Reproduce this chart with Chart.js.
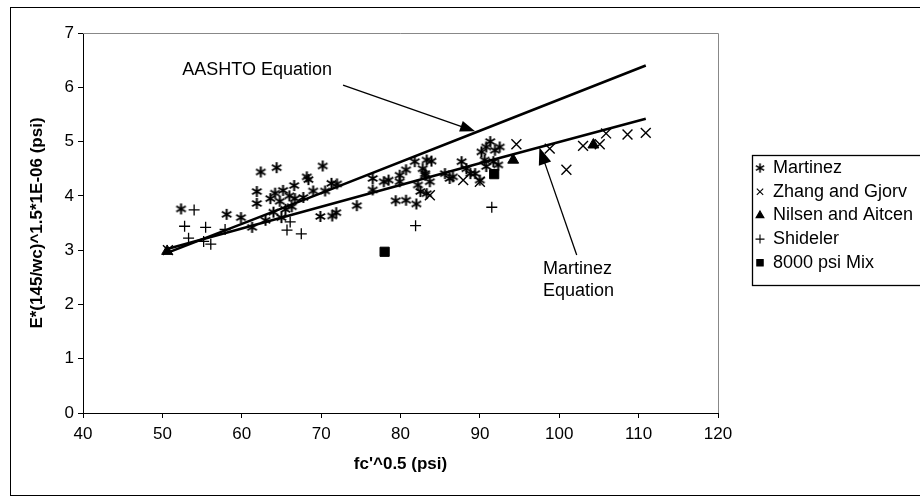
<!DOCTYPE html>
<html>
<head>
<meta charset="utf-8">
<script src="https://cdn.jsdelivr.net/npm/chart.js@4.4.0/dist/chart.umd.min.js"></script>
<style>
  html, body { margin: 0; padding: 0; background: #fff; }
</style>
</head>
<body>
<canvas id="chart" width="920" height="503"></canvas>
<script>
// Data (x = fc'^0.5, y = E*(145/wc)^1.5*1E-06)
const martinezX = [52.35, 58.1, 59.9, 61.3, 62.4, 64.4, 61.9, 61.9, 63.6, 64.2, 64.8, 65.2, 65.5, 64.0, 63.0, 66.0, 65.0,
  70.2, 68.2, 68.4, 66.6, 69.0, 70.5, 71.3, 72.0, 66.7, 67.75, 66.3, 69.9, 71.4, 71.9, 74.5, 76.5, 76.5, 77.9, 78.5,
  79.9, 79.9, 80.7, 81.8, 79.4, 80.7, 82.0, 82.5, 83.1, 83.3, 82.8, 82.2,
  83.9, 83.1, 83.7, 83.3, 85.6, 86.2, 86.6, 87.7, 88.3, 88.8, 89.4, 90.0, 90.2, 90.8, 91.3, 91.9, 92.5, 90.6, 91.7, 92.3, 90.8];
const martinezY = [3.76, 3.66, 3.60, 3.42, 4.44, 4.52, 4.08, 3.86, 3.95, 4.05, 3.90, 4.10, 3.75, 3.70, 3.55, 4.00, 3.60,
  4.55, 4.35, 4.30, 4.19, 4.09, 4.09, 4.23, 4.22, 3.95, 3.97, 3.80, 3.62, 3.63, 3.69, 3.82, 4.32, 4.11, 4.26, 4.29,
  4.38, 4.26, 4.48, 4.63, 3.91, 3.92, 3.85, 4.08, 4.41, 4.66, 4.50, 4.20,
  4.64, 4.38, 4.26, 4.04, 4.41, 4.32, 4.35, 4.63, 4.50, 4.41, 4.41, 4.29, 4.81, 4.90, 5.00, 4.84, 4.90, 4.66, 4.63, 4.57, 4.54];

const zhangX = [50.7, 83.7, 87.9, 90.0, 94.6, 98.8, 100.9, 103.0, 105.1, 105.9, 108.6, 110.9];
const zhangY = [3.00, 4.01, 4.29, 4.26, 4.95, 4.87, 4.48, 4.92, 4.95, 5.15, 5.13, 5.16];

const nilsenX = [50.6, 94.2, 104.3];
const nilsenY = [2.98, 4.66, 4.94];

const shidelerX = [54.0, 52.8, 55.45, 53.3, 55.2, 56.1, 57.9, 65.7, 66.1, 67.5, 81.9, 91.5];
const shidelerY = [3.74, 3.44, 3.42, 3.22, 3.16, 3.11, 3.38, 3.37, 3.52, 3.30, 3.45, 3.79];

const mixX = [78.0, 91.8];
const mixY = [2.97, 4.40];

const aashtoX = [50.6, 70, 90, 110.9];
const aashtoY = [2.95, 4.05, 5.20, 6.40];

const martinezEqX = [50.6, 70, 90, 110.9];
const martinezEqY = [3.02, 3.80, 4.60, 5.42];

const xTicks = { min: 40, max: 120, step: 10 };
const yTicks = { min: 0, max: 7, step: 1 };

const FONT = 'Liberation Sans, Arial, sans-serif';

function toPoints(xs, ys) {
    return xs.map((x, i) => ({ x: x, y: ys[i] }));
}

// six-armed asterisk marker used for the Martinez data
function makeAsterisk(size) {
    const c = document.createElement('canvas');
    c.width = size;
    c.height = size;
    const g = c.getContext('2d');
    const m = size / 2, r = size / 2 - 1;
    const dx = r * Math.cos(Math.PI / 6), dy = r * Math.sin(Math.PI / 6);
    g.strokeStyle = '#000';
    g.lineWidth = 2;
    g.beginPath();
    g.moveTo(m, m - r); g.lineTo(m, m + r);
    g.moveTo(m - dx, m - dy); g.lineTo(m + dx, m + dy);
    g.moveTo(m - dx, m + dy); g.lineTo(m + dx, m - dy);
    g.stroke();
    return c;
}
const asterisk = makeAsterisk(13);

function arrow(ctx, x1, y1, x2, y2, len, half) {
    const ang = Math.atan2(y2 - y1, x2 - x1);
    ctx.beginPath();
    ctx.moveTo(x1, y1);
    ctx.lineTo(x2 - Math.cos(ang) * len * 0.8, y2 - Math.sin(ang) * len * 0.8);
    ctx.stroke();
    ctx.beginPath();
    ctx.moveTo(x2, y2);
    ctx.lineTo(x2 - Math.cos(ang) * len - Math.sin(ang) * half, y2 - Math.sin(ang) * len + Math.cos(ang) * half);
    ctx.lineTo(x2 - Math.cos(ang) * len + Math.sin(ang) * half, y2 - Math.sin(ang) * len - Math.cos(ang) * half);
    ctx.closePath();
    ctx.fill();
}

const decorPlugin = {
    id: 'decor',
    beforeDatasetsDraw(chart) {
        const { ctx, chartArea: a } = chart;
        ctx.save();
        ctx.strokeStyle = '#888';
        ctx.lineWidth = 1;
        ctx.beginPath();
        ctx.moveTo(a.left, a.top + 0.5);
        ctx.lineTo(a.right + 0.5, a.top + 0.5);
        ctx.lineTo(a.right + 0.5, a.bottom);
        ctx.stroke();
        ctx.restore();
    },
    afterDraw(chart) {
        const { ctx, scales } = chart;
        const sx = v => scales.x.getPixelForValue(v);
        const sy = v => scales.y.getPixelForValue(v);
        ctx.save();

        // outer frame
        ctx.strokeStyle = '#000';
        ctx.lineWidth = 1;
        ctx.strokeRect(10.5, 7.5, 940, 488);

        // annotations
        ctx.fillStyle = '#000';
        ctx.lineWidth = 1.3;
        arrow(ctx, sx(72.76), sy(6.04), sx(89.4), sy(5.19), 15, 5.5);
        arrow(ctx, sx(102.2), sy(2.91), sx(97.5), sy(4.89), 17, 6.5);

        ctx.font = '18px ' + FONT;
        ctx.textBaseline = 'middle';
        ctx.textAlign = 'right';
        ctx.fillText('AASHTO Equation', sx(71.37), sy(6.32));
        ctx.textAlign = 'left';
        ctx.fillText('Martinez', sx(97.95), sy(2.65));
        ctx.fillText('Equation', sx(97.95), sy(2.24));

        // legend box
        const lx = 752, ly = 155, rowH = 23.7;
        ctx.strokeRect(lx + 0.5, ly + 0.5, 200, 130);
        chart.data.datasets.forEach(ds => {
            if (!ds.inLegend) return;
            const y = ly + 13 + ds.legendRow * rowH;
            if (ds.pointStyle === asterisk) {
                ctx.drawImage(asterisk, 760 - 5.5, y - 5.5, 11, 11);
            } else {
                ctx.strokeStyle = '#000';
                ctx.fillStyle = '#000';
                ctx.lineWidth = 1.1;
                Chart.helpers.drawPoint(ctx, { pointStyle: ds.pointStyle, radius: 4.5, borderWidth: 1.1 }, 760, y);
            }
            ctx.fillStyle = '#000';
            ctx.textAlign = 'left';
            ctx.fillText(ds.label, 773, y);
        });
        ctx.restore();
    }
};

const markerBase = {
    type: 'scatter',
    showLine: false,
    borderColor: '#000',
    backgroundColor: '#000',
    inLegend: true
};

new Chart(document.getElementById('chart'), {
    type: 'scatter',
    data: {
        datasets: [
            { ...markerBase, label: 'Martinez', legendRow: 0, data: toPoints(martinezX, martinezY), pointStyle: asterisk, pointRadius: 6.5, borderWidth: 1.5, order: 2 },
            { ...markerBase, label: 'Zhang and Gjorv', legendRow: 1, data: toPoints(zhangX, zhangY), pointStyle: 'crossRot', pointRadius: 7, borderWidth: 1.4, order: 2 },
            { ...markerBase, label: 'Nilsen and Aitcen', legendRow: 2, data: toPoints(nilsenX, nilsenY), pointStyle: 'triangle', pointRadius: 6.3, borderWidth: 1, order: 2 },
            { ...markerBase, label: 'Shideler', legendRow: 3, data: toPoints(shidelerX, shidelerY), pointStyle: 'cross', pointRadius: 5.5, borderWidth: 1.3, order: 2 },
            { ...markerBase, label: '8000 psi Mix', legendRow: 4, data: toPoints(mixX, mixY), pointStyle: 'rect', pointRadius: 6.5, borderWidth: 1, order: 2 },
            { type: 'scatter', label: 'AASHTO Equation', data: toPoints(aashtoX, aashtoY), showLine: true, borderColor: '#000', borderWidth: 2.6, pointRadius: 0, order: 1 },
            { type: 'scatter', label: 'Martinez Equation', data: toPoints(martinezEqX, martinezEqY), showLine: true, borderColor: '#000', borderWidth: 2.6, pointRadius: 0, order: 1 }
        ]
    },
    options: {
        responsive: false,
        animation: false,
        events: [],
        layout: { padding: { left: 23, top: 33, right: 202, bottom: 24 } },
        plugins: {
            legend: { display: false },
            tooltip: { enabled: false }
        },
        scales: {
            x: {
                type: 'linear',
                min: xTicks.min,
                max: xTicks.max,
                afterFit: scale => { scale.height = 66; },
                ticks: { stepSize: xTicks.step, color: '#000', font: { family: FONT, size: 17 }, padding: 6 },
                grid: { drawOnChartArea: false, drawTicks: true, tickLength: 5, color: '#000' },
                border: { color: '#000' },
                title: { display: true, text: "fc'^0.5 (psi)", color: '#000', font: { family: FONT, size: 17, weight: 'bold' } }
            },
            y: {
                type: 'linear',
                min: yTicks.min,
                max: yTicks.max,
                afterFit: scale => { scale.width = 60; },
                ticks: { stepSize: yTicks.step, color: '#000', font: { family: FONT, size: 17 }, padding: 4 },
                grid: { drawOnChartArea: false, drawTicks: true, tickLength: 5, color: '#000' },
                border: { color: '#000' },
                title: { display: true, text: 'E*(145/wc)^1.5*1E-06 (psi)', color: '#000', font: { family: FONT, size: 17, weight: 'bold' } }
            }
        }
    },
    plugins: [decorPlugin]
});
</script>
</body>
</html>
